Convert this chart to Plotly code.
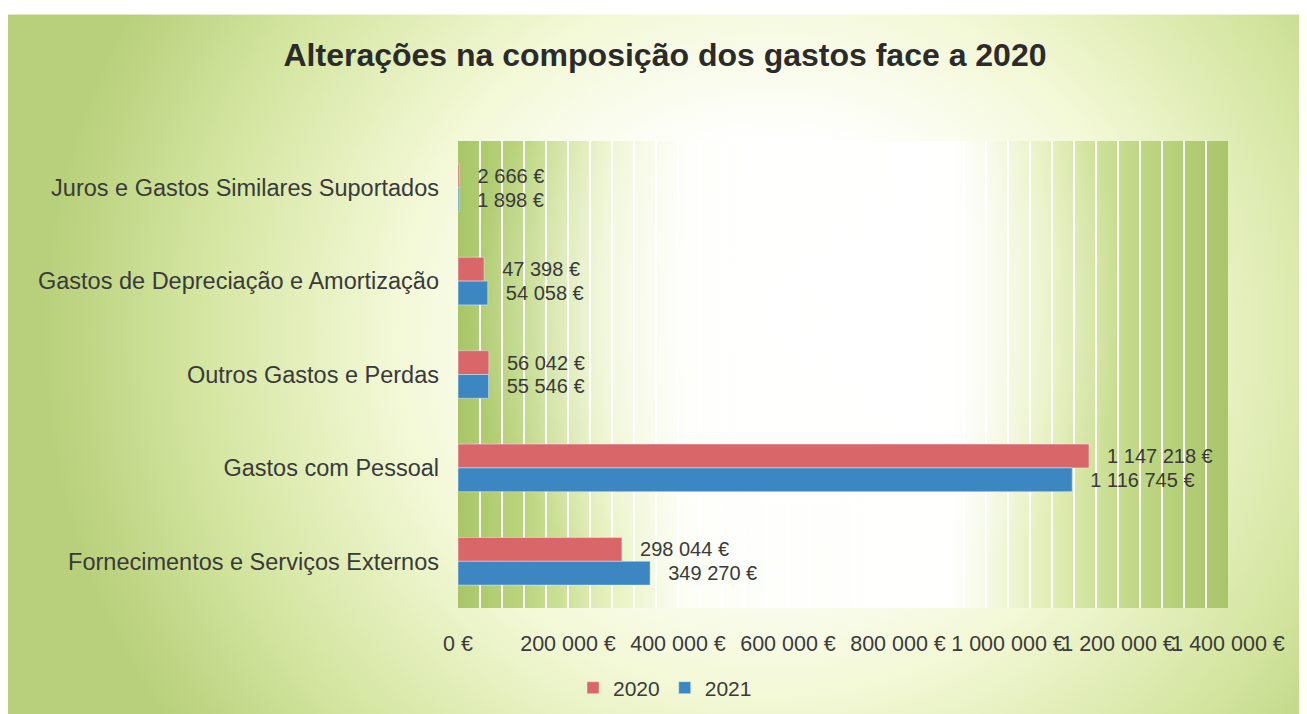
import base64
import plotly.graph_objects as go

categories = [
    "Juros e Gastos Similares Suportados",
    "Gastos de Depreciação e Amortização",
    "Outros Gastos e Perdas",
    "Gastos com Pessoal",
    "Fornecimentos e Serviços Externos",
]
values_2020 = [2666, 47398, 56042, 1147218, 298044]
values_2021 = [1898, 54058, 55546, 1116745, 349270]
series_names = ["2020", "2021"]
tick_values = [0, 200000, 400000, 600000, 800000, 1000000, 1200000, 1400000]
tick_labels = ["0 €", "200 000 €", "400 000 €", "600 000 €", "800 000 €",
               "1 000 000 €", "1 200 000 €", "1 400 000 €"]

# page body adds an 8px offset; figure coordinates below are page - 8
W, H = 1307, 714
L, R, T, B = 450, 87, 133, 112
PW, PH = W - L - R, H - T - B


def eur(v):
    return "\u00a0\u00a0\u2009" + f"{v:,}".replace(",", " ") + " €"


svg = f'''<svg xmlns="http://www.w3.org/2000/svg" width="{W}" height="{H}" viewBox="0 0 {W} {H}">
<defs>
<radialGradient id="bg" gradientUnits="userSpaceOnUse" cx="765" cy="330" r="730"
 gradientTransform="translate(765 330) scale(1 0.95) translate(-765 -330)">
<stop offset="0" stop-color="#ffffff"/>
<stop offset="0.28" stop-color="#ffffff"/>
<stop offset="0.52" stop-color="#f3f8d6"/>
<stop offset="0.78" stop-color="#d5e6a2"/>
<stop offset="1" stop-color="#b8d07b"/>
</radialGradient>
<linearGradient id="pa" x1="0" y1="0" x2="1" y2="0">
<stop offset="0" stop-color="#a8c668"/>
<stop offset="0.09" stop-color="#bcd57e"/>
<stop offset="0.2" stop-color="#e8f2c0"/>
<stop offset="0.3" stop-color="#fdfef6"/>
<stop offset="0.64" stop-color="#ffffff"/>
<stop offset="0.76" stop-color="#e4efb8"/>
<stop offset="0.88" stop-color="#c1d886"/>
<stop offset="1" stop-color="#a9c56a"/>
</linearGradient>
<radialGradient id="glow" gradientUnits="userSpaceOnUse" cx="790" cy="300" r="330">
<stop offset="0" stop-color="#ffffff" stop-opacity="0.9"/>
<stop offset="0.6" stop-color="#ffffff" stop-opacity="0.5"/>
<stop offset="1" stop-color="#ffffff" stop-opacity="0"/>
</radialGradient>
</defs>
<rect width="{W}" height="{H}" fill="#ffffff"/>
<rect x="0" y="6" width="{W}" height="{H-6}" fill="url(#bg)"/>
<rect x="{L}" y="{T}" width="{PW}" height="{PH}" fill="url(#pa)"/>
<rect x="{L}" y="{T}" width="{PW}" height="{PH}" fill="url(#glow)"/>
</svg>'''
src = "data:image/svg+xml;base64," + base64.b64encode(svg.encode("utf-8")).decode()

font = "Liberation Sans, Arial, sans-serif"

fig = go.Figure()
fig.add_trace(go.Bar(
    y=categories, x=values_2020, name=series_names[0], orientation="h",
    marker=dict(color="#d9676a"), text=[eur(v) for v in values_2020],
    textposition="outside", cliponaxis=False, constraintext="none",
    textfont=dict(size=20, color="#3a3a3a", family=font),
))
fig.add_trace(go.Bar(
    y=categories, x=values_2021, name=series_names[1], orientation="h",
    marker=dict(color="#3c87c1"), text=[eur(v) for v in values_2021],
    textposition="outside", cliponaxis=False, constraintext="none",
    textfont=dict(size=20, color="#3a3a3a", family=font),
))

fig.update_layout(
    width=W, height=H,
    margin=dict(l=L, r=R, t=T, b=B),
    paper_bgcolor="white",
    plot_bgcolor="rgba(0,0,0,0)",
    barmode="group", bargap=0.49, bargroupgap=0,
    font=dict(family=font, color="#3a3a3a", size=20),
    title=dict(text="<b>Alterações na composição dos gastos face a 2020</b>",
               x=657 / W, xref="container", xanchor="center",
               y=1 - 47 / H, yref="container", yanchor="middle",
               font=dict(size=32, color="#2b2b2b", family=font)),
    legend=dict(orientation="h", xref="container", yref="container",
                x=657 / W, xanchor="center", y=1 - 680 / H, yanchor="middle",
                font=dict(size=21, color="#3a3a3a"), bgcolor="rgba(0,0,0,0)",
                itemwidth=30, traceorder="normal"),
    xaxis=dict(range=[0, 1400000], tickvals=tick_values, ticktext=tick_labels,
               tickangle=0, showgrid=True, gridcolor="white", gridwidth=2,
               zeroline=False, showline=False, ticks="", ticklabelstandoff=20,
               tickfont=dict(size=21.5, color="#3a3a3a"),
               minor=dict(dtick=40000, showgrid=True, gridcolor="white", gridwidth=2)),
    yaxis=dict(autorange="reversed", showgrid=False, zeroline=False, showline=False,
               ticks="", ticklabelstandoff=18,
               tickfont=dict(size=23.5, color="#3a3a3a")),
    images=[dict(source=src, xref="paper", yref="paper",
                 x=-L / PW, y=(H - B) / PH, sizex=W / PW, sizey=H / PH,
                 xanchor="left", yanchor="top", sizing="stretch", layer="below")],
)

fig.write_html("out.html")
